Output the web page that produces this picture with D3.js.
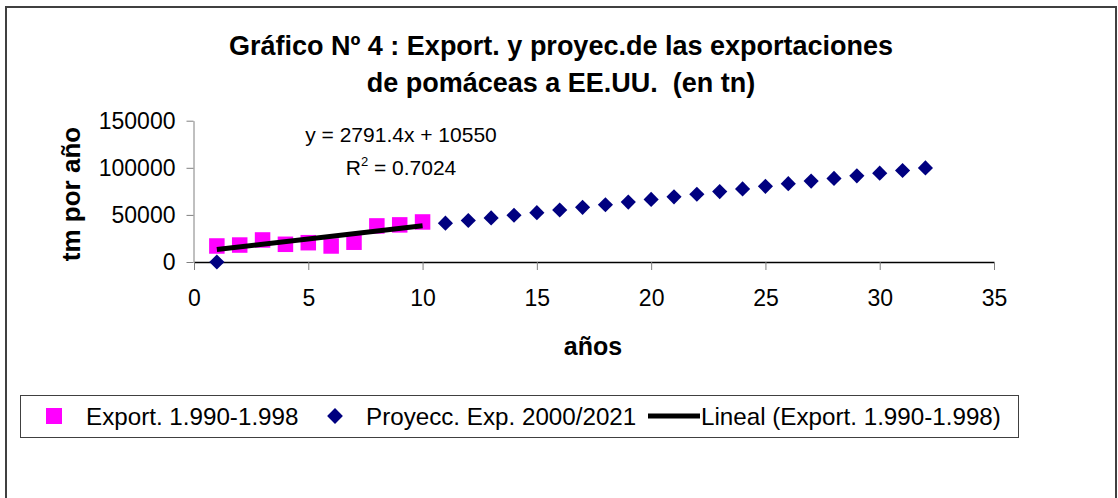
<!DOCTYPE html>
<html>
<head>
<meta charset="utf-8">
<script src="https://cdn.jsdelivr.net/npm/d3@7"></script>
<style>
  body { margin: 0; background: #fff; }
  svg { display: block; font-family: "Liberation Sans", Arial, sans-serif; }
</style>
</head>
<body>
<script>
// values
const exportYears = [1, 2, 3, 4, 5, 6, 7, 8, 9, 10];
const exportValues = [17000, 18000, 23400, 18800, 20500, 17000, 21000, 38300, 39400, 42500];

const projYears = [1, 11, 12, 13, 14, 15, 16, 17, 18, 19, 20, 21, 22, 23, 24, 25, 26, 27, 28, 29, 30, 31, 32];
const projValues = [0, 41250, 44050, 46800, 49600, 52400, 55200, 58000, 60800, 63600, 66400, 69200,
    71950, 74750, 77550, 80350, 83150, 85900, 88700, 91500, 94300, 97100, 99900];

const trendYears = [1, 10];
const trendValues = [13341, 38464];

const xTicks = [0, 5, 10, 15, 20, 25, 30, 35];
const yTicks = [0, 50000, 100000, 150000];

const titleLines = ["Gráfico Nº 4 : Export. y proyec.de las exportaciones", "de pomáceas a EE.UU.  (en tn)"];
const legendLabels = ["Export. 1.990-1.998", "Proyecc. Exp. 2000/2021", "Lineal (Export. 1.990-1.998)"];

window.onload = function () {
    const width = 1118, height = 498;

    const svg = d3.select("body").append("svg")
        .attr("width", width)
        .attr("height", height);

    // chart area border
    svg.append("rect")
        .attr("x", 6).attr("y", 7)
        .attr("width", 1110).attr("height", 520)
        .attr("fill", "#fff")
        .attr("stroke", "#404040")
        .attr("stroke-width", 2);

    const x = d3.scaleLinear().domain([0, 35]).range([194, 994]);
    const y = d3.scaleLinear().domain([0, 150000]).range([262, 120.7]);

    // title
    svg.append("g")
        .selectAll("text")
        .data(titleLines)
        .join("text")
        .attr("x", 561)
        .attr("y", (d, i) => 55 + i * 37)
        .attr("text-anchor", "middle")
        .attr("font-weight", "bold")
        .attr("font-size", 27)
        .style("white-space", "pre")
        .text(d => d);

    // y axis
    const gy = svg.append("g")
        .attr("transform", `translate(${x(0) - 0.5},0)`)
        .call(d3.axisLeft(y).tickValues(yTicks).tickFormat(d3.format("d")).tickSize(7).tickPadding(11).tickSizeOuter(0));
    gy.select(".domain").attr("stroke", "#808080");
    gy.selectAll(".tick line").attr("stroke", "#808080");
    gy.selectAll(".tick text").attr("font-size", 23).attr("fill", "#000").attr("font-family", null);

    // x axis
    const gx = svg.append("g")
        .attr("transform", `translate(0,${y(0)})`)
        .call(d3.axisBottom(x).tickValues(xTicks).tickSize(8).tickPadding(20).tickSizeOuter(0));
    gx.select(".domain").attr("stroke", "#000").attr("stroke-width", 1.5);
    gx.selectAll(".tick line").attr("stroke", "#808080");
    gx.selectAll(".tick text").attr("font-size", 23).attr("fill", "#000").attr("font-family", null);

    // axis titles
    svg.append("text")
        .attr("transform", `translate(80,194) rotate(-90)`)
        .attr("text-anchor", "middle")
        .attr("font-weight", "bold")
        .attr("font-size", 26)
        .text("tm por año");

    svg.append("text")
        .attr("x", 593).attr("y", 355)
        .attr("text-anchor", "middle")
        .attr("font-weight", "bold")
        .attr("font-size", 25)
        .text("años");

    // export squares
    const sq = 15.5;
    svg.append("g")
        .attr("fill", "#ff00ff")
        .selectAll("rect")
        .data(exportYears.map((d, i) => [d, exportValues[i]]))
        .join("rect")
        .attr("x", d => x(d[0]) - sq / 2)
        .attr("y", d => y(d[1]) - sq / 2)
        .attr("width", sq).attr("height", sq);

    // projection diamonds
    const diamond = d3.symbol().type(d3.symbolSquare).size(115);
    svg.append("g")
        .attr("fill", "#000080")
        .selectAll("path")
        .data(projYears.map((d, i) => [d, projValues[i]]))
        .join("path")
        .attr("transform", d => `translate(${x(d[0])},${y(d[1])}) rotate(45)`)
        .attr("d", diamond);

    // linear trend
    svg.append("path")
        .datum(trendYears.map((d, i) => [d, trendValues[i]]))
        .attr("fill", "none")
        .attr("stroke", "#000")
        .attr("stroke-width", 5)
        .attr("d", d3.line().x(d => x(d[0])).y(d => y(d[1])));

    // equation
    svg.append("text")
        .attr("x", 401).attr("y", 142)
        .attr("text-anchor", "middle")
        .attr("font-size", 21)
        .text("y = 2791.4x + 10550");
    const r2 = svg.append("text")
        .attr("x", 401).attr("y", 175)
        .attr("text-anchor", "middle")
        .attr("font-size", 21);
    r2.append("tspan").text("R");
    r2.append("tspan").attr("font-size", 13).attr("dy", -9).text("2");
    r2.append("tspan").attr("dy", 9).text(" = 0.7024");

    // legend
    const legend = svg.append("g");
    legend.append("rect")
        .attr("x", 20.5).attr("y", 395.5)
        .attr("width", 998).attr("height", 42)
        .attr("fill", "#fff")
        .attr("stroke", "#404040")
        .attr("stroke-width", 1);

    const ly = 416;
    legend.append("rect")
        .attr("x", 46).attr("y", ly - 8)
        .attr("width", 16).attr("height", 16)
        .attr("fill", "#ff00ff");
    legend.append("path")
        .attr("transform", `translate(335,${ly}) rotate(45)`)
        .attr("d", d3.symbol().type(d3.symbolSquare).size(125))
        .attr("fill", "#000080");
    legend.append("line")
        .attr("x1", 648).attr("x2", 700)
        .attr("y1", ly).attr("y2", ly)
        .attr("stroke", "#000")
        .attr("stroke-width", 5);

    legend.selectAll("text.lbl")
        .data(legendLabels)
        .join("text")
        .attr("class", "lbl")
        .attr("x", (d, i) => [86, 366, 701][i])
        .attr("y", ly + 8.5)
        .attr("font-size", 24.2)
        .text(d => d);
};
</script>
</body>
</html>
